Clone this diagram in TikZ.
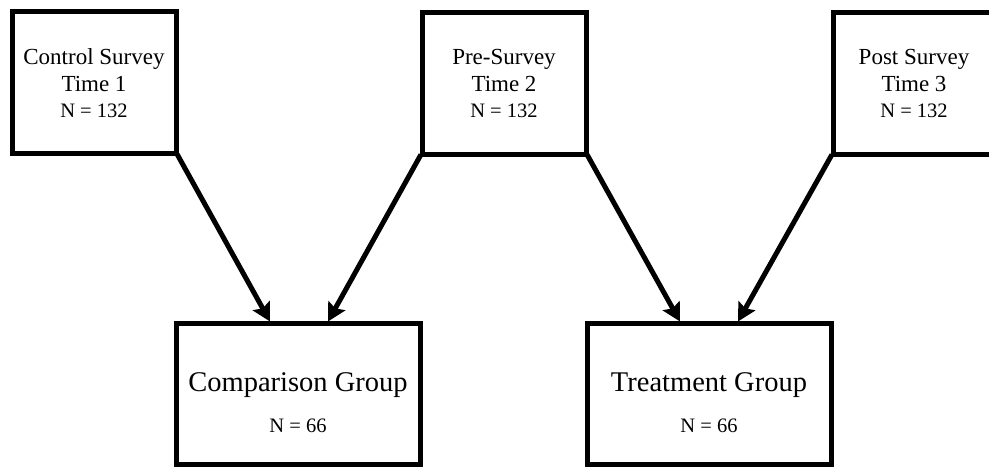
\documentclass[tikz,border=0pt]{standalone}
\usepackage{fontspec}
\setmainfont{Liberation Serif}
\usetikzlibrary{arrows.meta,calc}
\begin{document}
\begin{tikzpicture}[x=1pt,y=-1pt,
  survey/.style={draw,line width=5pt,minimum width=164pt,minimum height=142pt,inner sep=0pt,outer sep=0pt},
  group/.style={draw,line width=5pt,minimum width=244pt,minimum height=141pt,inner sep=0pt,outer sep=0pt},
  big/.style={anchor=base,inner sep=0pt,font=\fontsize{23}{26}\selectfont},
  small/.style={anchor=base,inner sep=0pt,font=\fontsize{20.5}{24}\selectfont},
  title/.style={anchor=base,inner sep=0pt,font=\fontsize{28.5}{32}\selectfont},
  conn/.style={line width=5pt,-{Stealth[length=18pt,width=19pt,inset=3pt]}}]
\useasboundingbox (0,0) rectangle (989,470);
% survey boxes
\node[survey] (b1) at (94,83) {};
\node[survey] (b2) at (504,83.5) {};
\node[survey] (b3) at (915,83.5) {};
% group boxes
\node[group] (cg) at (298,394.5) {};
\node[group] (tg) at (709,394.5) {};
% texts
\node[big] (b1a) at (94,65) {Control Survey};
\node[big] (b1b) at (94,92) {Time 1};
\node[small] (b1c) at (94,118) {N = 132};
\node[big] (b2a) at (504,65) {Pre-Survey};
\node[big] (b2b) at (504,92) {Time 2};
\node[small] (b2c) at (504,118) {N = 132};
\node[big] (b3a) at (914,65) {Post Survey};
\node[big] (b3b) at (914,92) {Time 3};
\node[small] (b3c) at (914,118) {N = 132};
\node[title] (cga) at (298,392) {Comparison Group};
\node[small] (cgb) at (298,433) {N = 66};
\node[title] (tga) at (709,392) {Treatment Group};
\node[small] (tgb) at (709,433) {N = 66};
% connectors
\draw[conn] ($(b1.south east)+(1,0)$) -- ($(cg.north west)+(94,-2.5)$);
\draw[conn] ($(b2.south west)+(-1,0)$) -- ($(cg.north west)+(152,-2.5)$);
\draw[conn] ($(b2.south east)+(1,0)$) -- ($(tg.north west)+(93,-2.5)$);
\draw[conn] ($(b3.south west)+(-1,0)$) -- ($(tg.north west)+(151,-2.5)$);
\end{tikzpicture}
\end{document}
